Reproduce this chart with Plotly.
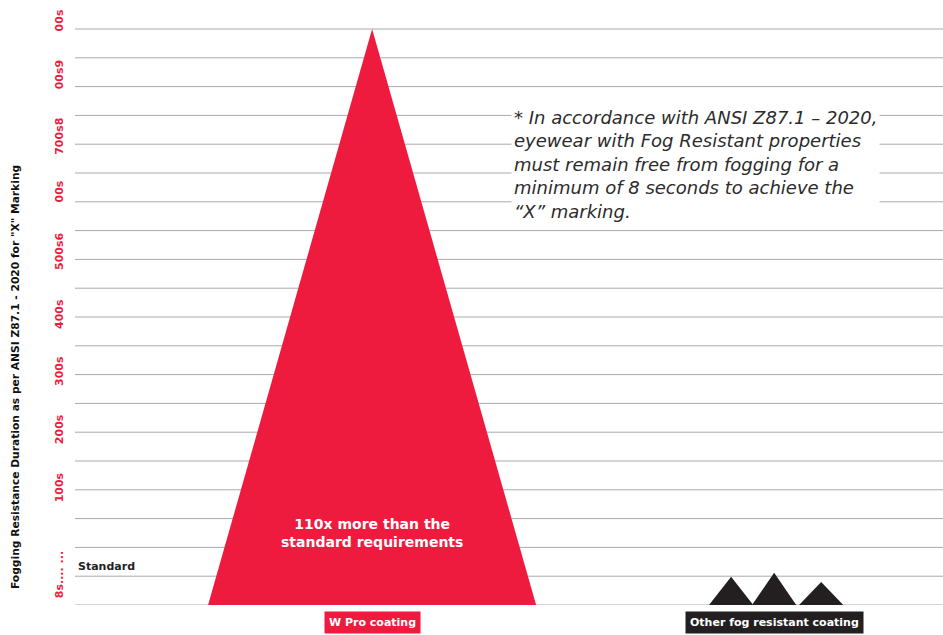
import plotly.graph_objects as go

# ---- data ----
categories = ["W Pro coating", "Other fog resistant coating"]
category_pos = [0, 1]
wpro_peak = [1000]                     # single tall peak (plot units)
other_offsets = [-0.107, 0.0, 0.117]   # three small peaks around category 2
other_peaks = [49, 56, 40]
tick_vals = [1012, 918, 811, 715, 611, 502, 403, 302, 201, 50]
tick_text = ["00s", "00s9", "700s8", "00s", "500s6", "400s", "300s", "200s", "100s", "8s.... ..."]
grid_vals = list(range(0, 1001, 50))
standard_level = 66

RED = "#EE1B3F"
DARK = "#231F20"
FONT = "DejaVu Sans"

GRID_TOP, PLOT_BOTTOM, PLOT_LEFT, PLOT_W = 29, 605, 75, 868
EXTRA_PX = 12
UNIT_PX = (PLOT_BOTTOM - GRID_TOP) / 1000.0
PLOT_TOP = GRID_TOP - EXTRA_PX
Y_MAX = 1000 + EXTRA_PX / UNIT_PX

def py(pix):  # pixel row -> paper y
    return (PLOT_BOTTOM - pix) / (PLOT_BOTTOM - PLOT_TOP)
def px(pix):
    return (pix - PLOT_LEFT) / PLOT_W

fig = go.Figure()

# W Pro triangle
hw = 0.408
c0 = category_pos[0]
p0 = wpro_peak[0]
fig.add_trace(go.Scatter(x=[c0 - hw, c0, c0 + hw, c0 - hw], y=[0, p0, 0, 0], fill="toself",
                         fillcolor=RED, mode="lines", line=dict(width=0, color=RED),
                         hoverinfo="skip", showlegend=False))

# other triangles
hw2 = 0.055
for off, p in zip(other_offsets, other_peaks):
    c = category_pos[1] + off
    fig.add_trace(go.Scatter(x=[c - hw2, c, c + hw2, c - hw2], y=[0, p, 0, 0],
                             fill="toself", fillcolor=DARK, mode="lines",
                             line=dict(width=0, color=DARK), hoverinfo="skip", showlegend=False))

annotations = [
    dict(text="<b>Fogging Resistance Duration as per ANSI Z87.1 - 2020 for \"X\" Marking</b>",
         xref="paper", yref="paper", x=px(15), y=py(377), textangle=-90,
         xanchor="center", yanchor="middle", showarrow=False,
         font=dict(family=FONT, size=10.7, color="#111111")),
    dict(text="<i>* In accordance with ANSI Z87.1 – 2020,<br>eyewear with Fog Resistant properties<br>"
              "must remain free from fogging for a<br>minimum of 8 seconds to achieve the<br>“X” marking.</i>",
         xref="paper", yref="paper", x=px(511), y=py(104),
         xanchor="left", yanchor="top", align="left", showarrow=False,
         bgcolor="white", borderpad=2,
         font=dict(family=FONT, size=18, color="#2b2b2b")),
    dict(text="<b>110x more than the<br>standard requirements</b>",
         x=c0, y=(605 - 533) / UNIT_PX, xanchor="center", yanchor="middle",
         showarrow=False, font=dict(family=FONT, size=14, color="white")),
    dict(text="<b>Standard</b>", xref="paper", x=px(76), y=standard_level,
         xanchor="left", yanchor="middle", showarrow=False,
         font=dict(family=FONT, size=11, color="#222222")),
]
for pos, cat, col in zip(category_pos, categories, [RED, DARK]):
    annotations.append(dict(text="<b>" + cat + "</b>", x=pos, xref="x", yref="paper", y=0,
                            yanchor="top", xanchor="center", yshift=-6, showarrow=False,
                            bgcolor=col, borderpad=4,
                            font=dict(family=FONT, size=11, color="white")))

fig.update_layout(
    width=943, height=635,
    margin=dict(l=PLOT_LEFT, r=0, t=PLOT_TOP, b=635 - PLOT_BOTTOM, autoexpand=False),
    paper_bgcolor="white", plot_bgcolor="white",
    xaxis=dict(range=[-0.739, 1.42], showgrid=False, showticklabels=False, zeroline=False,
               fixedrange=True, automargin=False),
    yaxis=dict(range=[0, Y_MAX], tickmode="array", tickvals=tick_vals, ticktext=tick_text,
               tickangle=-90, tickfont=dict(family=FONT, size=11, color=RED, weight="bold"),
               showgrid=False, zeroline=False, ticks="", automargin=False, ticklabelstandoff=9,
               fixedrange=True),
    annotations=annotations,
    showlegend=False,
)
for g in grid_vals:
    fig.add_hline(y=g, line=dict(color="#aaaaaa", width=1), layer="below")

fig.write_html("out.html", config={"displayModeBar": False},
               post_script="document.body.style.margin='0';document.body.style.overflow='hidden';")
